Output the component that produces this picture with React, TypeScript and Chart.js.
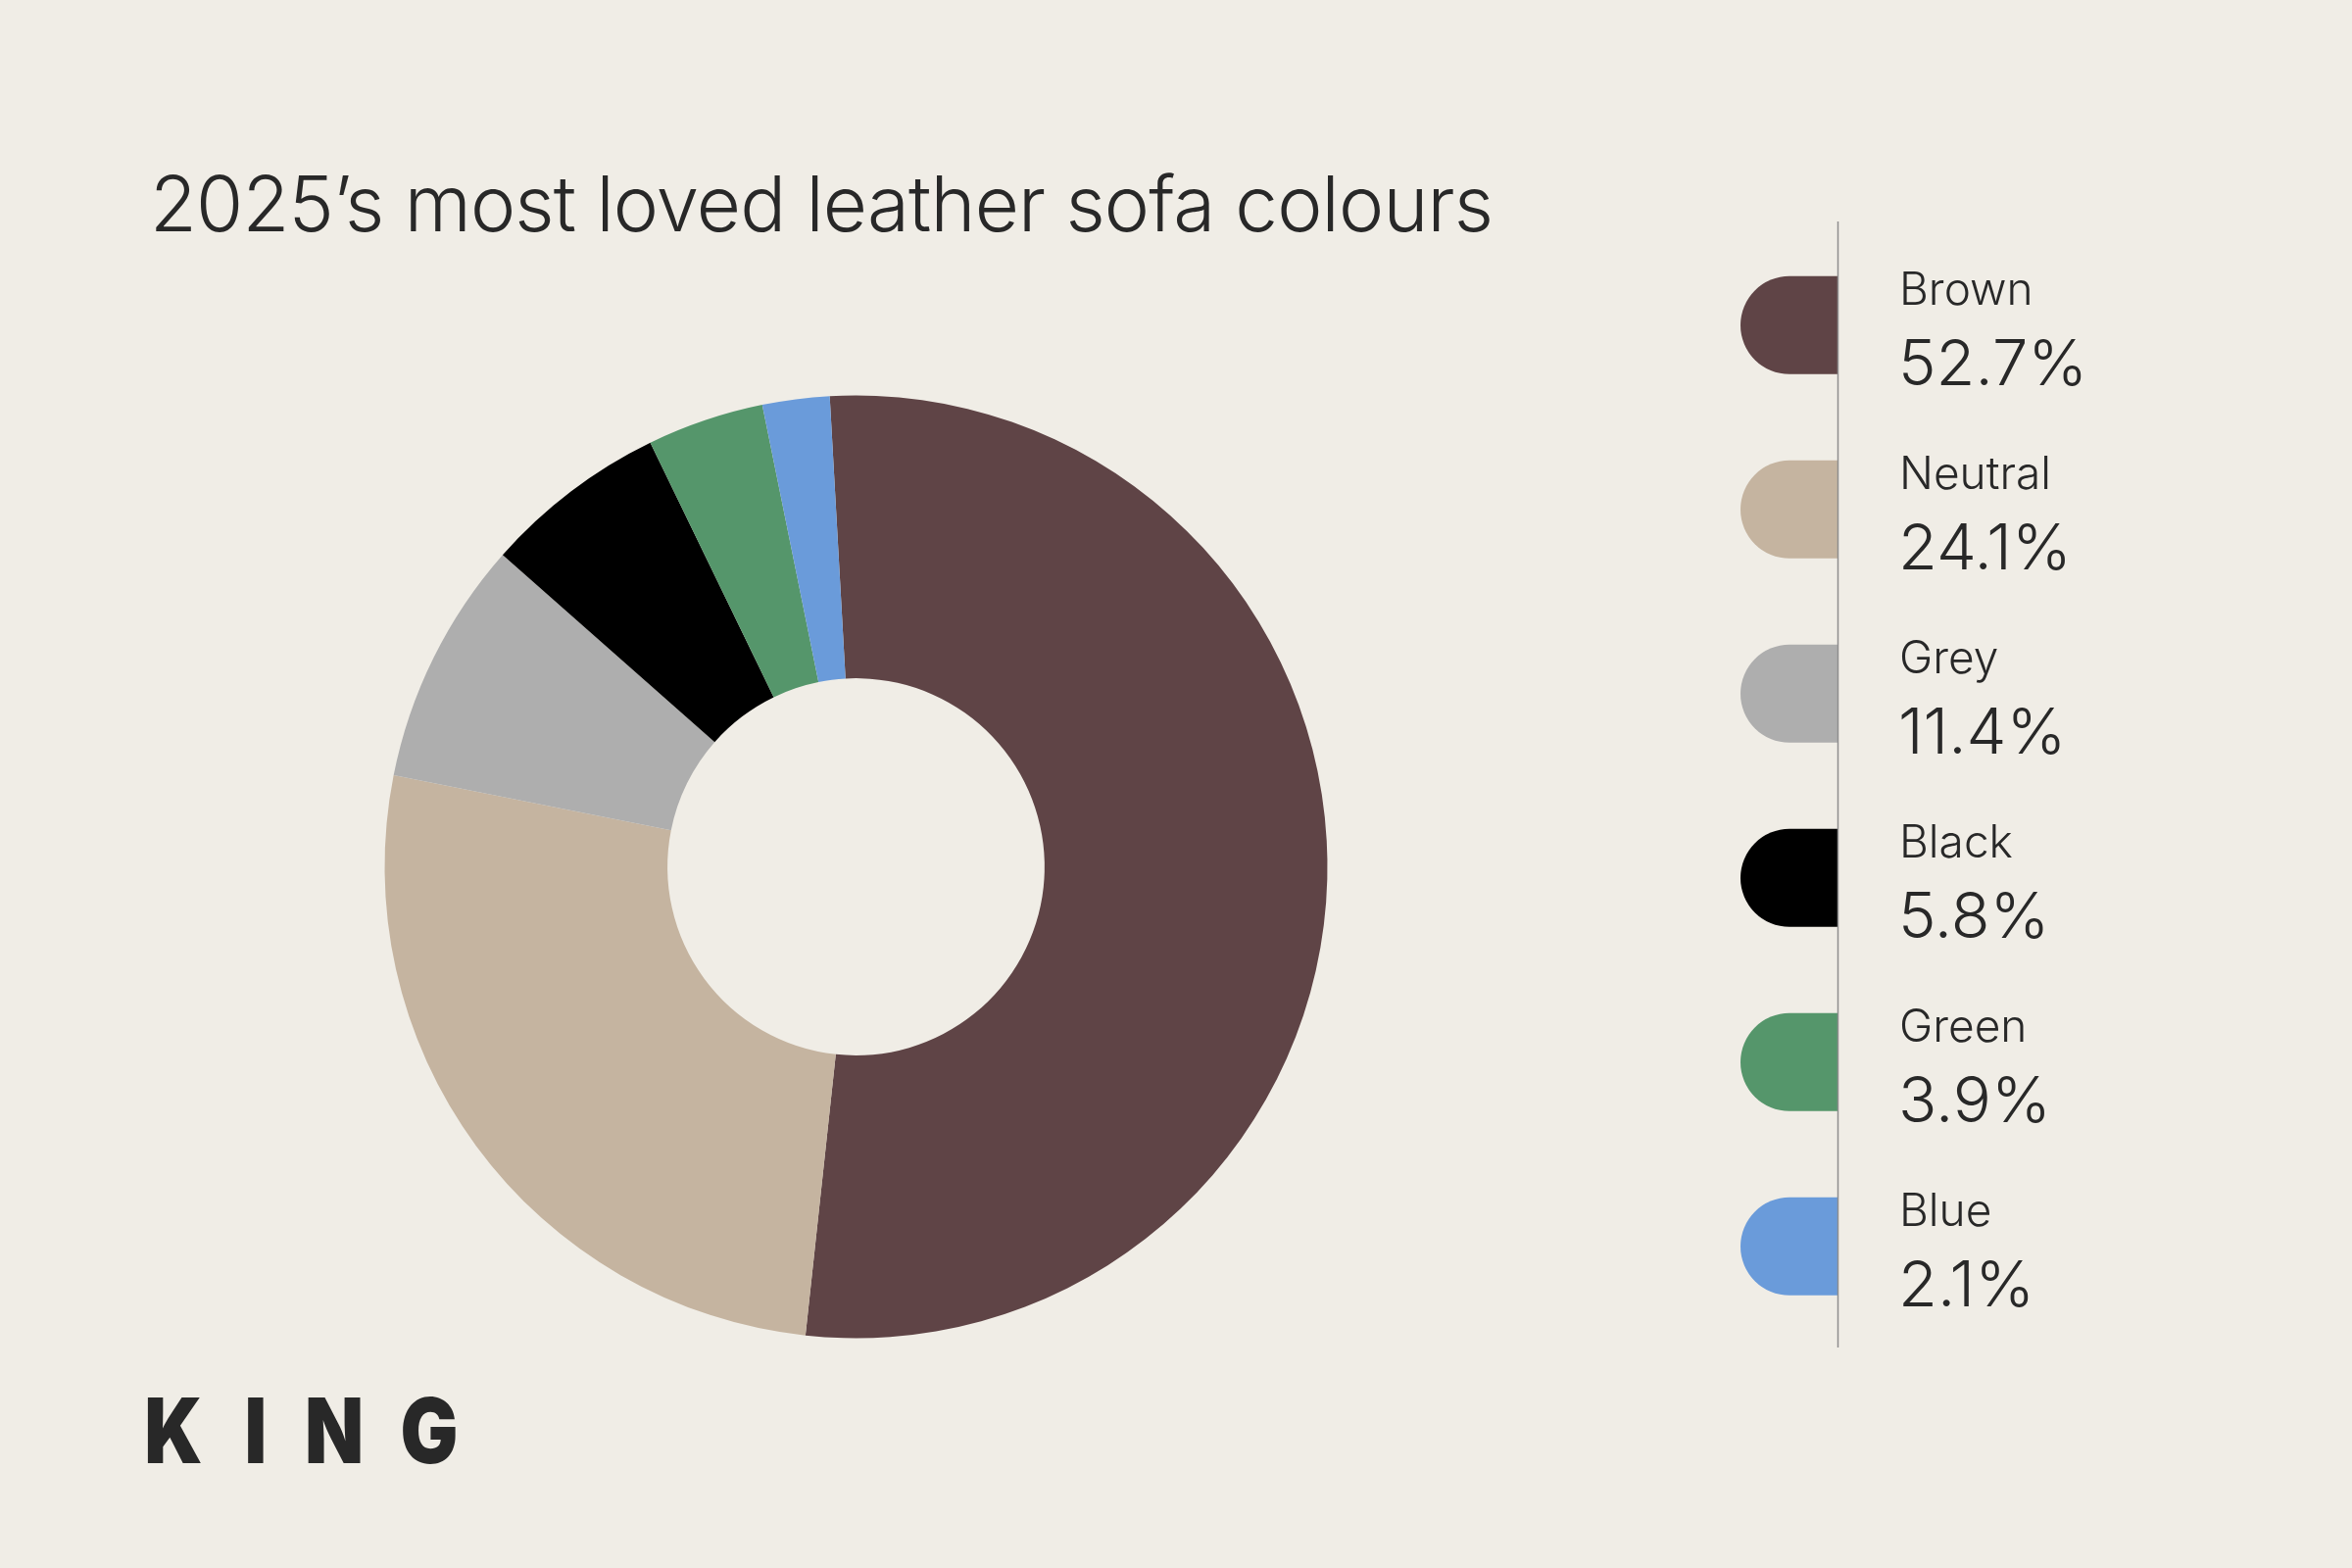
import React, { useEffect, useRef } from "react";
import { Chart, registerables } from "chart.js";

Chart.register(...registerables);

const TITLE = "2025\u2019s most loved leather sofa colours";
const categories = ["Brown", "Neutral", "Grey", "Black", "Green", "Blue"];
const legendPercents = ["52.7%", "24.1%", "11.4%", "5.8%", "3.9%", "2.1%"];
// shares as the ring is drawn in the picture
const sliceShares = [52.6, 26.4, 8.4, 6.3, 4.0, 2.3];
const colours = ["#5F4446", "#C5B4A0", "#AEAEAE", "#000000", "#55966B", "#6A9BDA"];
const brandLetters = ["K", "I", "N", "G"];

const BG = "#F0EDE6";
const INK = "#282828";

function fitText(ctx: CanvasRenderingContext2D, text: string, x: number, y: number, target: number) {
  (ctx as any).letterSpacing = "0px";
  const w = ctx.measureText(text).width;
  const ls = (target - w) / Math.max(text.length - 1, 1);
  (ctx as any).letterSpacing = `${ls}px`;
  ctx.fillText(text, x, y);
  (ctx as any).letterSpacing = "0px";
}

const overlay = {
  id: "overlay",
  beforeDraw(chart: any) {
    const ctx = chart.ctx as CanvasRenderingContext2D;
    ctx.save();
    ctx.fillStyle = BG;
    ctx.fillRect(0, 0, chart.width, chart.height);
    ctx.restore();
  },
  afterDraw(chart: any) {
    const ctx = chart.ctx as CanvasRenderingContext2D;
    ctx.save();
    ctx.textBaseline = "alphabetic";
    ctx.textAlign = "left";

    // title
    ctx.fillStyle = INK;
    ctx.font = "300 78px Inter";
    fitText(ctx, TITLE, 153, 236, 1371);

    // legend
    const lineX = 1875.5;
    const left = 1776;
    const r = 50;
    const y0 = 331.8;
    const step = 188;
    categories.forEach((name, i) => {
      const cy = y0 + i * step;
      ctx.fillStyle = colours[i];
      ctx.beginPath();
      ctx.moveTo(lineX, cy - r);
      ctx.lineTo(left + r, cy - r);
      ctx.arc(left + r, cy, r, -Math.PI / 2, Math.PI / 2, true);
      ctx.lineTo(lineX, cy + r);
      ctx.closePath();
      ctx.fill();

      ctx.fillStyle = INK;
      ctx.font = "300 46px Inter";
      ctx.fillText(name, 1938, cy - 21);
      ctx.font = "300 65px Inter";
      ctx.fillText(legendPercents[i], 1937, cy + 61);
    });
    ctx.strokeStyle = "#8E8E8E";
    ctx.lineWidth = 1.5;
    ctx.beginPath();
    ctx.moveTo(lineX, 226);
    ctx.lineTo(lineX, 1375);
    ctx.stroke();

    // brand mark
    const centres = [177, 261, 341, 438];
    ctx.fillStyle = INK;
    ctx.font = "900 92px Inter";
    ctx.textAlign = "center";
    brandLetters.forEach((ch, i) => {
      ctx.save();
      ctx.translate(centres[i], 1493);
      ctx.scale(0.85, 1);
      ctx.fillText(ch, 0, 0);
      ctx.restore();
    });
    ctx.restore();
  },
};

export default function App() {
  const ref = useRef<HTMLCanvasElement>(null);
  useEffect(() => {
    document.body.style.margin = "0";
    const chart = new Chart(ref.current as HTMLCanvasElement, {
      type: "doughnut",
      data: {
        labels: categories,
        datasets: [
          {
            data: sliceShares,
            backgroundColor: colours,
            borderWidth: 0,
            hoverOffset: 0,
            offset: 0,
          },
        ],
      },
      options: {
        responsive: false,
        animation: false,
        devicePixelRatio: 1,
        rotation: -3.2,
        cutout: "40%",
        events: [],
        layout: { padding: { left: 392.5, right: 1045.5, top: 403.5, bottom: 234.5 } },
        plugins: { legend: { display: false }, tooltip: { enabled: false }, title: { display: false } },
      },
      plugins: [overlay],
    } as any);
    return () => chart.destroy();
  }, []);
  return (
    <div style={{ width: 2400, height: 1600, background: BG }}>
      <canvas ref={ref} width={2400} height={1600} style={{ display: "block" }} />
    </div>
  );
}
